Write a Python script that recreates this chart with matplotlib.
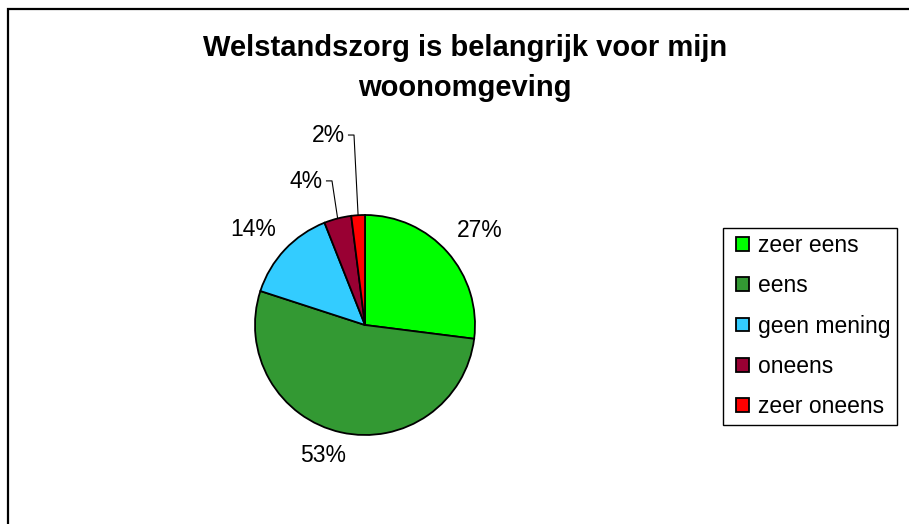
import numpy as np
import matplotlib
matplotlib.use('Agg')
import matplotlib.pyplot as plt
from matplotlib.patches import Rectangle

plt.rcParams['font.family'] = ['Liberation Sans', 'DejaVu Sans']

# Data
categories = ['zeer eens', 'eens', 'geen mening', 'oneens', 'zeer oneens']
values = [27, 53, 14, 4, 2]
pct_labels = ['27%', '53%', '14%', '4%', '2%']
colors = ['#00FF00', '#339933', '#33CCFF', '#990033', '#FF0000']

W, H = 909, 524
fig = plt.figure(figsize=(W / 100, H / 100), dpi=100)

# outer frame (only left and top edges visible in the crop)
fig.patches.append(Rectangle((8 / W, -0.1), 1.2, 1 - 9 / H + 0.1, transform=fig.transFigure,
                             fill=False, edgecolor='black', linewidth=1.6))

# pie axes: centre (365, 325), radius 110 px
cx, cy, r = 365, 325, 110
ax = fig.add_axes([(cx - r) / W, (H - cy - r) / H, 2 * r / W, 2 * r / H])
wedges, _ = ax.pie(values, colors=colors, startangle=90, counterclock=False,
                   wedgeprops=dict(edgecolor='black', linewidth=1.3))
ax.set_xlim(-1, 1)
ax.set_ylim(-1, 1)
ax.set_aspect('equal')
ax.axis('off')

fs = 16.5

# percentage labels (distance, angle tweak in degrees)
place = {0: (1.35, -2.0), 1: (1.245, -5.4), 2: (1.34, 2.6)}
for i, w in enumerate(wedges):
    if i in place:
        d, tw = place[i]
        mid = np.deg2rad((w.theta1 + w.theta2) / 2 + tw)
        ax.text(d * np.cos(mid), d * np.sin(mid), pct_labels[i], ha='center', va='center',
                fontsize=fs, clip_on=False)

# small slices with leader lines
leader = {3: ((-0.54, 1.30), (-0.30, 1.31)), 4: ((-0.33, 1.727), (-0.10, 1.727))}
for i, (tpos, corner) in leader.items():
    w = wedges[i]
    mid = np.deg2rad((w.theta1 + w.theta2) / 2)
    ex, ey = np.cos(mid), np.sin(mid)
    ax.text(tpos[0], tpos[1], pct_labels[i], ha='center', va='center', fontsize=fs, clip_on=False)
    ax.plot([corner[0] - 0.05, corner[0], ex], [corner[1], corner[1], ey], color='black',
            linewidth=0.8, clip_on=False)

# title
fig.text(465 / W, 1 - 48 / H, 'Welstandszorg is belangrijk voor mijn', ha='center', va='center',
         fontsize=21, fontweight='bold')
fig.text(465 / W, 1 - 88 / H, 'woonomgeving', ha='center', va='center',
         fontsize=21, fontweight='bold')

# legend box drawn separately, entries without frame
fig.patches.append(Rectangle((723 / W, 1 - 425 / H), 174 / W, 197 / H, transform=fig.transFigure,
                             fill=False, edgecolor='black', linewidth=1.0))
leg = fig.legend(wedges, categories, loc='upper left', bbox_to_anchor=(730.5 / W, 1 - 228 / H),
                 bbox_transform=fig.transFigure, borderaxespad=0, fontsize=fs,
                 frameon=False, handlelength=0.55, handleheight=0.55,
                 handletextpad=0.4, labelspacing=0.76, borderpad=0.25)

fig.savefig('out.png', dpi=100, facecolor='white')
